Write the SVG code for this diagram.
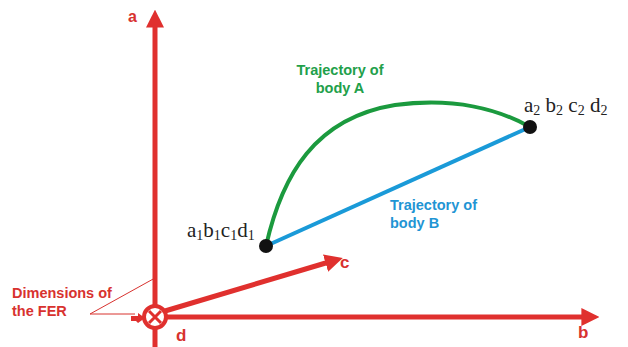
<svg xmlns="http://www.w3.org/2000/svg" width="628" height="347" viewBox="0 0 628 347">
<style>
.ax{stroke:#e0302e;stroke-width:5;fill:none}
.lab{font-family:"Liberation Sans",Arial,sans-serif;font-weight:bold;fill:#d8322f}
.tr{font-family:"Liberation Sans",Arial,sans-serif;font-weight:bold;font-size:14.5px}
.pt{font-family:"Liberation Serif","Times New Roman",serif;font-size:21px;fill:#222}
.sub{font-size:14px}
</style>
<defs>
<marker id="ah" viewBox="0 0 10 10" refX="2" refY="5" markerWidth="3.6" markerHeight="3.6" orient="auto" markerUnits="strokeWidth">
<path d="M0,0 L10,5 L0,10 z" fill="#e0302e"/>
</marker>
</defs>
<rect width="628" height="347" fill="#fff"/>
<g id="connectors">
<line class="ax" x1="155" y1="347" x2="155" y2="24" marker-end="url(#ah)"/>
<line class="ax" x1="155" y1="317" x2="585" y2="317" marker-end="url(#ah)"/>
<line class="ax" x1="165" y1="311" x2="329" y2="262" marker-end="url(#ah)"/>
<line x1="90" y1="314" x2="155" y2="278" stroke="#d8322f" stroke-width="1"/>
<line x1="90" y1="314" x2="135" y2="314" stroke="#d8322f" stroke-width="1"/>
<path d="M131,316 L138,316 L138,313 L145,318 L138,323 L136,321 L131,321 z" fill="#e0302e"/>
<path d="M266,246 C282,175 315,118 395,105 C455,97 500,110 530,127" stroke="#1b9a3e" stroke-width="4" fill="none"/>
<line x1="266" y1="246" x2="530" y2="127" stroke="#1a9ad8" stroke-width="4"/>
</g>
<g id="origin">
<circle cx="155" cy="317" r="11" fill="#fff" stroke="#e0302e" stroke-width="4"/>
<path d="M149,311 L161,323 M161,311 L149,323" stroke="#e0302e" stroke-width="3"/>
</g>
<g id="p1">
<circle cx="266" cy="246" r="7" fill="#111"/>
<text class="pt" x="187" y="237">a<tspan class="sub" dy="3">1</tspan><tspan dy="-3">b</tspan><tspan class="sub" dy="3">1</tspan><tspan dy="-3">c</tspan><tspan class="sub" dy="3">1</tspan><tspan dy="-3">d</tspan><tspan class="sub" dy="3">1</tspan></text>
</g>
<g id="p2">
<circle cx="530" cy="127" r="7" fill="#111"/>
<text class="pt" x="524" y="112">a<tspan class="sub" dy="3">2</tspan><tspan dy="-3"> b</tspan><tspan class="sub" dy="3">2</tspan><tspan dy="-3"> c</tspan><tspan class="sub" dy="3">2</tspan><tspan dy="-3"> d</tspan><tspan class="sub" dy="3">2</tspan></text>
</g>
<g id="labels">
<text class="lab" x="128" y="22" font-size="16">a</text>
<text class="lab" x="578" y="338" font-size="17">b</text>
<text class="lab" x="340" y="268" font-size="17">c</text>
<text class="lab" x="176" y="341" font-size="17">d</text>
<text class="lab" x="12" y="298" font-size="14.5">Dimensions of</text>
<text class="lab" x="12" y="316" font-size="14.5">the FER</text>
<text class="tr" fill="#22a04a" x="340" y="75" text-anchor="middle">Trajectory of</text>
<text class="tr" fill="#22a04a" x="340" y="93" text-anchor="middle">body A</text>
<text class="tr" fill="#1f95d4" x="390" y="210">Trajectory of</text>
<text class="tr" fill="#1f95d4" x="390" y="228">body B</text>
</g>
</svg>
